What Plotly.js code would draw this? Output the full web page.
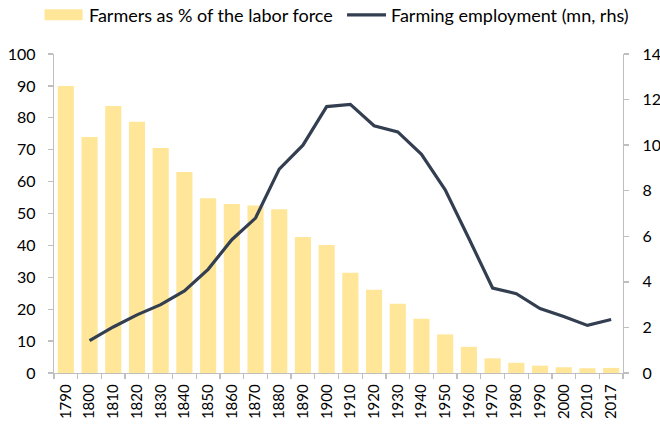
<!DOCTYPE html>
<html>
<head>
<meta charset="utf-8">
<script src="https://cdn.plot.ly/plotly-3.0.1.min.js"></script>
<style>html,body{margin:0;padding:0;background:#fff;}#chart{width:660px;height:428px;}</style>
</head>
<body>
<div id="chart"></div>
<script>
const years = ["1790","1800","1810","1820","1830","1840","1850","1860","1870","1880","1890","1900","1910","1920","1930","1940","1950","1960","1970","1980","1990","2000","2010","2017"];
const farmerShare = [90, 74, 83.7, 78.8, 70.5, 63, 54.8, 53, 52.5, 51.3, 42.6, 40.1, 31.4, 26.1, 21.7, 17, 12.1, 8.2, 4.6, 3.2, 2.3, 1.8, 1.5, 1.6];
const farmEmployment = [null, 1.42, 2.02, 2.55, 3.0, 3.6, 4.55, 5.85, 6.8, 8.95, 10.0, 11.69, 11.79, 10.85, 10.58, 9.6, 8.04, 5.9, 3.73, 3.48, 2.83, 2.48, 2.09, 2.35];
const legendLabels = ["Farmers as % of the labor force", "Farming employment (mn, rhs)"];

const FONT = "Lato, sans-serif";
const axisGray = "#BFBFBF";
const barColor = "#FFE699";
const lineColor = "#333F50";

const traces = [
  {type: "bar", x: years, y: farmerShare, name: legendLabels[0], marker: {color: barColor}, width: 0.68, yaxis: "y"},
  {type: "scatter", mode: "lines", x: years, y: farmEmployment, name: legendLabels[1], line: {color: lineColor, width: 3.2}, yaxis: "y2", connectgaps: false}
];

const layout = {
  width: 660, height: 428,
  margin: {l: 54, r: 37, t: 54, b: 55},
  paper_bgcolor: "#fff", plot_bgcolor: "#fff",
  showlegend: false,
  font: {family: FONT, size: 16, color: "#000"},
  xaxis: {
    type: "category", tickangle: -90, showgrid: false, zeroline: false,
    showline: true, linecolor: axisGray, linewidth: 1.3,
    ticks: "outside", tickson: "boundaries", ticklen: 5, tickcolor: axisGray, tickwidth: 1.3,
    ticklabelstandoff: 4,
    tickfont: {family: FONT, size: 15, color: "#000"}, automargin: false
  },
  yaxis: {
    range: [0, 100], dtick: 10, showgrid: false, zeroline: false,
    showline: true, linecolor: axisGray, linewidth: 1.3,
    ticks: "outside", ticklen: 5, tickcolor: axisGray, tickwidth: 1.3,
    ticklabelstandoff: 9,
    tickfont: {family: FONT, size: 16, color: "#000"}, automargin: false
  },
  yaxis2: {
    overlaying: "y", side: "right", range: [0, 14], dtick: 2, showgrid: false, zeroline: false,
    showline: true, linecolor: axisGray, linewidth: 1.3,
    ticks: "outside", ticklen: 5, tickcolor: axisGray, tickwidth: 1.3,
    ticklabelstandoff: 10,
    tickfont: {family: FONT, size: 16, color: "#000"}, automargin: false
  },
  shapes: [
    {type: "rect", xref: "paper", yref: "paper", x0: -0.0167, x1: 0.0503, y0: 1.1056, y1: 1.1401, fillcolor: barColor, line: {width: 0}},
    {type: "line", xref: "paper", yref: "paper", x0: 0.515, x1: 0.5835, y0: 1.1229, y1: 1.1229, line: {color: lineColor, width: 3.2}}
  ],
  annotations: [
    {xref: "paper", yref: "paper", x: 0.058, y: 1.1229, xanchor: "left", yanchor: "middle", text: legendLabels[0], showarrow: false, font: {family: FONT, size: 18, color: "#000"}},
    {xref: "paper", yref: "paper", x: 0.5888, y: 1.1229, xanchor: "left", yanchor: "middle", text: legendLabels[1], showarrow: false, font: {family: FONT, size: 18, color: "#000"}}
  ]
};

Plotly.newPlot("chart", traces, layout, {displayModeBar: false, staticPlot: true});
</script>
</body>
</html>
